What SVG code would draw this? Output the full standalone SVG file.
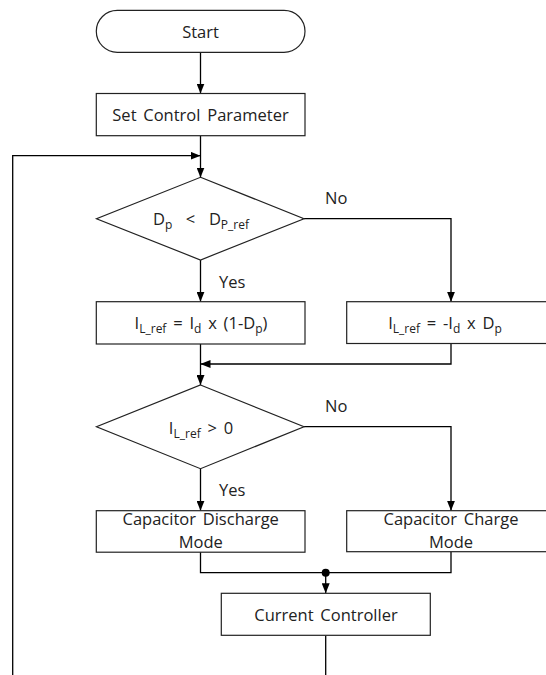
<svg xmlns="http://www.w3.org/2000/svg" width="546" height="675" viewBox="0 0 546 675">
<defs>
<marker id="arr" viewBox="0 0 10 8" refX="10" refY="4" markerWidth="10" markerHeight="8" markerUnits="userSpaceOnUse" orient="auto">
<path d="M0,0 L10,4 L0,8 Z" fill="#000"/>
</marker>
</defs>
<style>
.shape{fill:#fff;stroke:#222;stroke-width:1.2}
.line{fill:none;stroke:#000;stroke-width:1.3}
.arrow{marker-end:url(#arr)}
text{font-family:"Open Sans","Noto Sans",sans-serif;font-size:16.5px;fill:#222;word-spacing:2.5px}
.c{text-anchor:middle}
.sub{font-size:12px}
</style>
<rect width="546" height="675" fill="#fff"/>
<g id="connectors">
<line class="line arrow" x1="200.5" y1="52" x2="200.5" y2="93.5"/>
<line class="line arrow" x1="200.5" y1="136" x2="200.5" y2="177.5"/>
<polyline class="line arrow" points="12.7,675 12.7,155.7 200.5,155.7"/>
<polyline class="line arrow" points="304,218.7 451,218.7 451,301.7"/>
<line class="line arrow" x1="200.5" y1="260" x2="200.5" y2="301.7"/>
<line class="line arrow" x1="200.5" y1="344" x2="200.5" y2="385"/>
<polyline class="line arrow" points="451,343.5 451,364 200.5,364"/>
<polyline class="line arrow" points="304,426.7 451,426.7 451,510.7"/>
<line class="line arrow" x1="200.5" y1="468.7" x2="200.5" y2="510.7"/>
<polyline class="line" points="200.5,552 200.5,572.7 451,572.7 451,552"/>
<line class="line arrow" x1="325.7" y1="572.7" x2="325.7" y2="593.3"/>
<circle cx="325.7" cy="572.7" r="4" fill="#000"/>
<line class="line" x1="325.7" y1="635.5" x2="325.7" y2="675"/>
<text x="325" y="203.5">No</text>
<text x="219" y="287.5">Yes</text>
<text x="325" y="412">No</text>
<text x="219" y="495.5">Yes</text>
</g>
<g id="start">
<rect class="shape" x="96.3" y="10.3" width="208.7" height="42" rx="21"/>
<text class="c" x="200.5" y="37.5">Start</text>
</g>
<g id="set-param">
<rect class="shape" x="96.3" y="93.5" width="208.7" height="42.2"/>
<text class="c" x="200.5" y="120.5">Set Control Parameter</text>
</g>
<g id="decision1">
<polygon class="shape" points="200.5,177.3 304,218.7 200.5,260 96.5,218.7"/>
<text class="c" x="201" y="225">D<tspan class="sub" dy="3.5">p</tspan><tspan dy="-3.5" xml:space="preserve">  &lt;  D</tspan><tspan class="sub" dy="3.5">P_ref</tspan></text>
</g>
<g id="calc-yes">
<rect class="shape" x="96.3" y="301.7" width="208.7" height="42.3"/>
<text class="c" x="201" y="329">I<tspan class="sub" dy="3.5">L_ref</tspan><tspan dy="-3.5"> = I</tspan><tspan class="sub" dy="3.5">d</tspan><tspan dy="-3.5"> x (1-D</tspan><tspan class="sub" dy="3.5">p</tspan><tspan dy="-3.5">)</tspan></text>
</g>
<g id="calc-no">
<rect class="shape" x="346.7" y="301.7" width="202" height="41.8"/>
<text class="c" x="445" y="329">I<tspan class="sub" dy="3.5">L_ref</tspan><tspan dy="-3.5"> = -I</tspan><tspan class="sub" dy="3.5">d</tspan><tspan dy="-3.5"> x D</tspan><tspan class="sub" dy="3.5">p</tspan></text>
</g>
<g id="decision2">
<polygon class="shape" points="200.5,385 304,426.7 200.5,468.7 96.5,426.7"/>
<text class="c" x="201" y="434">I<tspan class="sub" dy="3.5">L_ref</tspan><tspan dy="-3.5" xml:space="preserve"> &gt; 0</tspan></text>
</g>
<g id="discharge">
<rect class="shape" x="96.3" y="510.7" width="208.7" height="41.5"/>
<text class="c"><tspan x="200.7" y="525.3">Capacitor Discharge</tspan><tspan x="200.7" y="548">Mode</tspan></text>
</g>
<g id="charge">
<rect class="shape" x="346.7" y="510.7" width="202" height="41"/>
<text class="c"><tspan x="451" y="525.3">Capacitor Charge</tspan><tspan x="451" y="548">Mode</tspan></text>
</g>
<g id="controller">
<rect class="shape" x="221.3" y="593.3" width="209" height="42"/>
<text class="c" x="326" y="620.5">Current Controller</text>
</g>
</svg>
